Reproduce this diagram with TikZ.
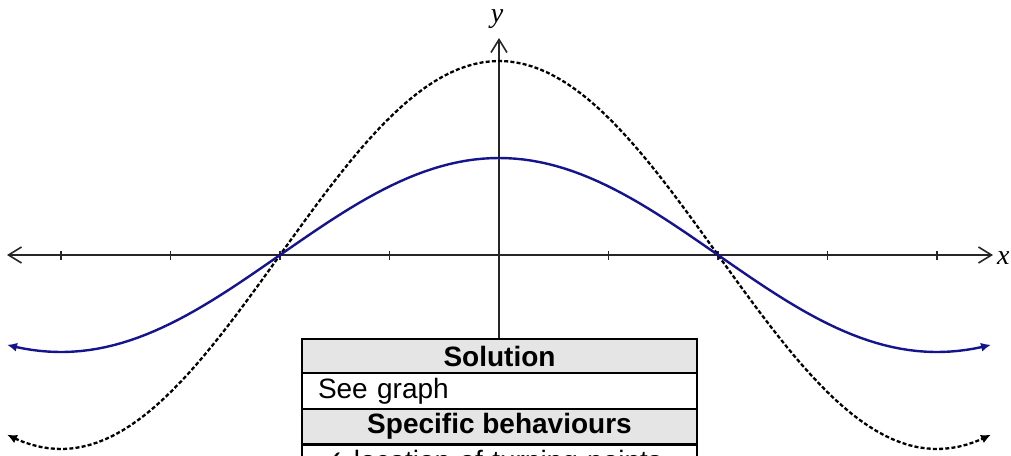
\documentclass[tikz,border=0pt]{standalone}
\usepackage{fontspec}
\setmainfont{Liberation Sans}
\newfontfamily\dejavu{DejaVu Sans}
\newfontfamily\labelserif{Liberation Serif}
\usetikzlibrary{arrows.meta}
\definecolor{curveblue}{RGB}{20,20,140}
\definecolor{rowgray}{RGB}{229,229,229}
\begin{document}
\begin{tikzpicture}[x=1pt,y=-1pt,
  axisline/.style={line width=1.6pt, draw=black!85},
  axisarrow/.style={axisline, {Straight Barb[length=13pt,width=16pt,line width=1.6pt]}-{Straight Barb[length=13pt,width=16pt,line width=1.6pt]}},
  axisup/.style={axisline, -{Straight Barb[length=13pt,width=16pt,line width=1.6pt]}},
  tick/.style={line width=1.4pt, draw=black!85},
  bluecurve/.style={line width=2.4pt, draw=curveblue, {Latex[length=10pt,width=9pt]}-{Latex[length=10pt,width=9pt]}},
  dotcurve/.style={line width=2.3pt, draw=black, dash pattern=on 4pt off 2.2pt, {Latex[length=10pt,width=9pt]}-{Latex[length=10pt,width=9pt]}},
  axislabel/.style={font=\fontsize{28}{32}\selectfont\labelserif\itshape, inner sep=0pt},
  cell/.style={draw=black, line width=2pt, minimum width=395pt, inner sep=0pt, font=\fontsize{28}{32}\selectfont},
  headcell/.style={cell, fill=rowgray, font=\fontsize{28}{32}\selectfont\bfseries},
  leftcell/.style={cell, inner xsep=16pt, text width=363pt, align=left}
]
\clip (0,0) rectangle (1011,455);
\fill[white] (0,0) rectangle (1011,455);

% axes
\coordinate (xl) at (7,255);
\coordinate (xr) at (993,255);
\coordinate (yb) at (499,339);
\coordinate (yt) at (499,38);
\draw[axisarrow] (xl) -- (xr);
\draw[axisup] (yb) -- (yt);
\node[axislabel, anchor=base west] (xlab) at (997,264) {x};
\node[axislabel, anchor=base] (ylab) at (497,22) {y};

% ticks
\foreach \k in {-4,-3,-2,-1,1,2,3,4}
  \draw[tick] ({499+109.5*\k},250.5) -- ({499+109.5*\k},259.5);

% curves
\draw[dotcurve] plot[domain=-202.2:202.2, samples=121, variable=\t]
  ({499+\t/90*219}, {255-194*cos(\t)});
\draw[bluecurve] plot[domain=-202.2:202.2, samples=121, variable=\t]
  ({499+\t/90*219}, {255-97*cos(\t)});

% table
\node[headcell, minimum height=34pt] (sol) at (499.5,356) {Solution};
\node[leftcell, minimum height=36pt] (see) at (499.5,391) {See graph};
\node[headcell, minimum height=35pt] (spec) at (499.5,426.5) {Specific behaviours};
\node[leftcell, minimum height=36pt, text height=20pt, text depth=6pt] (beh) at (499.5,463) {\hspace*{3pt}{\dejavu ✓} location of turning points};
\end{tikzpicture}
\end{document}
